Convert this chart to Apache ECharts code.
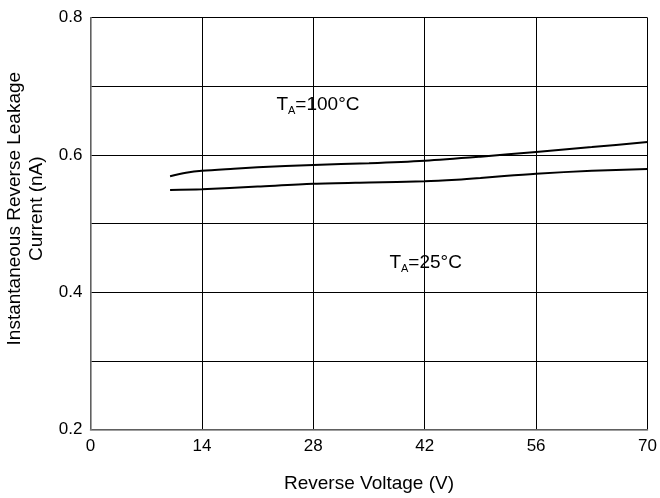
<!DOCTYPE html>
<html><head><meta charset="utf-8">
<script src="https://cdn.jsdelivr.net/npm/echarts@6/dist/echarts.min.js"></script>
<style>html,body{margin:0;padding:0;background:#fff}#c{width:660px;height:498px}</style>
</head><body><div id="c"></div>
<script>
var xTicks = [0, 14, 28, 42, 56, 70];
var yTicks = [0.2, 0.4, 0.6, 0.8];
var curve100 = [[10,0.569],[12,0.574],[14,0.577],[18,0.580],[21,0.582],[28,0.5855],[35,0.588],[42,0.5917],[49,0.5976],[56,0.6044],[63,0.6115],[70,0.619]];
var curve25 = [[10,0.549],[14,0.550],[21,0.554],[28,0.558],[35,0.560],[42,0.5617],[46,0.564],[49,0.5665],[52,0.5695],[56,0.5728],[63,0.577],[70,0.5796]];
var labels = [
  {name: '100', value: [23.3, 0.673]},
  {name: '25', value: [37.5, 0.443]}
];
var chart = echarts.init(document.getElementById('c'));
var font = 'Liberation Sans, Arial, sans-serif';
chart.setOption({
  animation: false,
  backgroundColor: '#fff',
  grid: {left: 90.5, right: 12.5, top: 17.7, bottom: 68.4, outerBoundsMode: 'none', containLabel: false},
  xAxis: {
    type: 'value', min: 0, max: 70, interval: 14,
    name: 'Reverse Voltage (V)', nameLocation: 'middle', nameGap: 45,
    nameTextStyle: {fontFamily: font, fontSize: 19, color: '#000'},
    axisLine: {lineStyle: {color: '#808080', width: 1.5}},
    axisTick: {show: false},
    axisLabel: {fontFamily: font, fontSize: 17, color: '#000', margin: 8,
      formatter: function(v){ return xTicks.indexOf(v) >= 0 ? String(v) : ''; }},
    splitLine: {show: true, lineStyle: {color: '#000', width: 1}}
  },
  yAxis: {
    type: 'value', min: 0.2, max: 0.8, interval: 0.1,
    name: 'Instantaneous Reverse Leakage\nCurrent (nA)', nameLocation: 'middle', nameGap: 38,
    nameTextStyle: {fontFamily: font, fontSize: 19, color: '#000', lineHeight: 22, padding: [0, 0, 0, 30]},
    axisLine: {show: true, lineStyle: {color: '#808080', width: 1.5}},
    axisTick: {show: false},
    axisLabel: {fontFamily: font, fontSize: 17, color: '#000', margin: 8,
      formatter: function(v){
        for (var i = 0; i < yTicks.length; i++) if (Math.abs(v - yTicks[i]) < 1e-6) return yTicks[i].toFixed(1);
        return '';
      }},
    splitLine: {show: true, lineStyle: {color: '#000', width: 1}}
  },
  series: [
    {type: 'line', data: curve100, smooth: 0.3, symbol: 'none', lineStyle: {color: '#000', width: 2}},
    {type: 'line', data: curve25, smooth: 0.3, symbol: 'none', lineStyle: {color: '#000', width: 2}},
    {type: 'scatter', data: labels, symbolSize: 1, silent: true, itemStyle: {color: '#fff', opacity: 1},
      emphasis: {disabled: true},
      label: {show: true, position: 'right', distance: 0, fontFamily: font, color: '#000', opacity: 1, textBorderWidth: 0,
        formatter: function(p){ return '{m|T}{s|A}{m|=' + p.name + '°C}'; },
        rich: {
          m: {fontFamily: font, fontSize: 19, color: '#000', opacity: 1, textBorderWidth: 0},
          s: {fontFamily: font, fontSize: 11, color: '#000', opacity: 1, textBorderWidth: 0, verticalAlign: 'bottom', padding: [13, 0, 0, 0]}
        }}}
  ]
});
</script></body></html>
